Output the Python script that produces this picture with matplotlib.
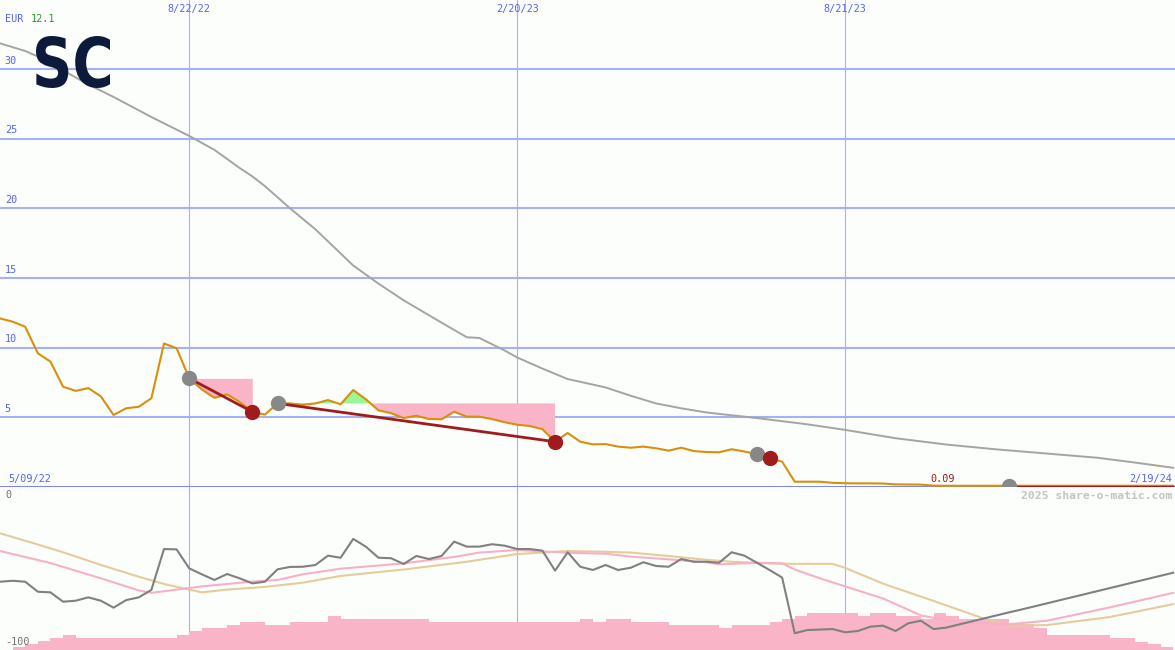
import numpy as np
import pandas as pd
import matplotlib
matplotlib.use("Agg")
import matplotlib.pyplot as plt
from matplotlib.textpath import TextPath
from matplotlib.patches import PathPatch
from matplotlib.font_manager import FontProperties
from matplotlib.transforms import Affine2D, IdentityTransform

START = pd.Timestamp("2022-05-09")
weeks = pd.date_range(START, periods=94, freq="7D")

# weekly close (EUR)
price = [12.1, 11.87, 11.5, 9.6, 9.0, 7.2, 6.9, 7.1, 6.5, 5.17,
         5.65, 5.76, 6.37, 10.3, 9.96, 7.8, 7.0, 6.4, 6.65, 6.1,
         5.4, 5.2, 6.0, 6.0, 5.9, 6.0, 6.24, 5.94, 6.96, 6.3,
         5.5, 5.3, 4.95, 5.12, 4.88, 4.86, 5.4, 5.05, 5.05, 4.88,
         4.65, 4.47, 4.38, 4.15, 3.25, 3.88, 3.25, 3.06, 3.08, 2.9,
         2.82, 2.9, 2.78, 2.61, 2.82, 2.58, 2.51, 2.49, 2.71, 2.55,
         2.35, 2.06, 1.82, 0.38, 0.38, 0.38, 0.3, 0.27, 0.26, 0.26,
         0.25, 0.19, 0.18, 0.17, 0.1, 0.09, 0.09, 0.09, 0.09, 0.09,
         0.09, 0.09, 0.09, 0.09, 0.09, 0.09, 0.09, 0.09, 0.09, 0.09,
         0.09, 0.09, 0.09, 0.09]

# long moving average (gray)
ma_weeks = [0, 2, 3, 5, 7, 9, 12, 15, 17, 19, 20, 21, 23, 25, 28, 30, 32, 35, 37, 38,
            40, 41, 43, 45, 48, 50, 52, 54, 56, 60, 64, 67, 71, 75, 79, 83, 87, 90, 93]
ma_vals = [31.85, 31.3, 30.9, 29.9, 28.9, 28.0, 26.56, 25.2, 24.2, 22.9, 22.3, 21.6, 20.0,
           18.5, 15.9, 14.6, 13.4, 11.8, 10.75, 10.7, 9.8, 9.3, 8.5, 7.75, 7.15, 6.55,
           6.0, 5.65, 5.35, 4.95, 4.5, 4.1, 3.5, 3.05, 2.7, 2.4, 2.1, 1.75, 1.38]

# trades: buy / sell week indexes
buy_weeks = [15, 22, 60, 80]
sell_weeks = [20, 44, 61, None]

# lower panel: oscillator (gray)
osc = [-57.6, -57, -57.6, -63.8, -64.2, -70, -69.4, -67.3, -69.4, -73.7,
       -69, -67.3, -62.7, -37.3, -37.5, -49.3, -53, -56.5, -52.8, -55.5,
       -58.6, -57.6, -49.9, -48.4, -48.3, -47.2, -41.4, -42.7, -31, -35.8,
       -42.7, -43, -46.6, -41.6, -43.5, -41.6, -32.7, -35.8, -35.8, -34.3,
       -35.2, -37.3, -37.3, -38.3, -50.7, -39.3, -48.3, -50.3, -47.2, -50.3,
       -48.9, -45.5, -47.8, -48.3, -43.5, -45.2, -45.2, -45.8, -39.3, -41.4,
       -45.8, -50.3, -55, -89.6, -87.6, -87.3, -87, -89, -88.2, -85.5,
       -84.9, -88.2, -83.4, -81.8, -87, -86.1, -84.2, -82.3, -80.4, -78.5,
       -76.6, -74.8, -72.9, -71, -69.1, -67.2, -65.3, -63.4, -61.5, -59.6,
       -57.7, -55.8, -53.9, -52]

pink_weeks = [0, 4, 8, 11, 12, 13, 16, 20, 22, 24, 27, 32, 36, 38, 41, 45, 48, 50, 53, 56,
              57, 60, 62, 63, 65, 67, 70, 73, 76, 80, 83, 88, 93]
pink_vals = [-38.5, -46, -55.5, -63, -64.5, -63.5, -60.5, -57.5, -56.5, -53, -49.5, -46.2,
             -42.2, -39.5, -37.9, -39.6, -40.2, -42, -43.7, -45.5, -46.8, -45.8, -46.2, -50,
             -55.5, -60.5, -68, -78.5, -83, -84, -81.8, -73.5, -64.5]

tan_weeks = [0, 3, 5, 8, 11, 13, 16, 18, 21, 24, 27, 32, 37, 41, 45, 48, 50, 53, 56, 58,
             61, 63, 66, 67, 70, 74, 78, 80, 83, 88, 93]
tan_vals = [-27.5, -34.5, -39.3, -47.2, -54.5, -59, -64.2, -62.5, -60.8, -58.2, -54, -50,
            -45.2, -40.4, -38.5, -39, -39.5, -41.6, -44, -45.2, -46.2, -46.5, -46.5, -49,
            -58.8, -69.5, -80.5, -85, -84.5, -79.5, -71.5]

bars = [-100, -98, -96.5, -94.4, -92.4, -90.7, -92.4, -92.4, -92.4, -92.4,
        -92.4, -92.4, -92.4, -92.4, -90.7, -88.2, -86.1, -86.1, -84.5, -82.4,
        -82.4, -84.5, -84.5, -82.4, -82.4, -82.4, -78.9, -80.7, -80.7, -80.7,
        -80.7, -80.7, -80.7, -80.7, -82.4, -82.4, -82.4, -82.4, -82.4, -82.4,
        -82.4, -82.4, -82.4, -82.4, -82.4, -82.4, -80.7, -82.4, -80.7, -80.7,
        -82.4, -82.4, -82.4, -84.5, -84.5, -84.5, -84.5, -86.1, -84.5, -84.5,
        -84.5, -82.4, -80.7, -78.9, -77.2, -77.2, -77.2, -77.2, -78.9, -77.2,
        -77.2, -78.9, -78.9, -80.7, -77.2, -78.9, -80.7, -80.7, -80.7, -80.7,
        -84, -84, -86.5, -90.7, -90.7, -90.7, -90.7, -90.7, -92.7, -92.7,
        -94.8, -96.3, -98, -100]

grid_dates = ["2022-08-22", "2023-02-20", "2023-08-21"]
grid_labels = ["8/22/22", "2/20/23", "8/21/23"]
y_levels = [5, 10, 15, 20, 25, 30]

W, H = 1175, 650
BG = "#fcfefc"
BLUE_TXT = "#5464f0"
GRID = "#a4b2f4"
MONO = "DejaVu Sans Mono"

fig = plt.figure(figsize=(W / 100, H / 100), dpi=100, facecolor=BG)
ax = fig.add_axes([0, 163 / H, 1, 487 / H], facecolor=BG)
ax2 = fig.add_axes([0, 0, 1, 163 / H], facecolor=BG)

xmin = START
xmax = START + pd.Timedelta(days=652)
for a in (ax, ax2):
    a.set_xlim(xmin, xmax)
    for s in a.spines.values():
        s.set_visible(False)
    a.set_xticks([])
    a.set_yticks([])
    for d in grid_dates:
        a.axvline(pd.Timestamp(d), color=GRID, lw=0.8, zorder=0)

ax.set_ylim(0, 34.96)
ax2.set_ylim(-100, 1.24)

for lv in y_levels:
    ax.axhline(lv, color=GRID, lw=1.5, zorder=0)
    ax.text(0.004, lv + 0.25, str(lv), transform=ax.get_yaxis_transform(),
            color=BLUE_TXT, fontsize=7.3, family=MONO, va="bottom", ha="left")
ax.axhline(0, color="#7a88f0", lw=2.2, zorder=1)

# moving average
ax.plot(weeks[ma_weeks], ma_vals, color="#a4a4a4", lw=1.4, zorder=2)

price_arr = np.array(price)
# trade fills and lines
for b, s in zip(buy_weeks, sell_weeks):
    lvl = price[b]
    if s is None:
        ax.plot([weeks[b], weeks[-1]], [lvl, lvl], color="#a01c1c", lw=1.0, zorder=4)
        continue
    xs = weeks[b:s + 1]
    ys = price_arr[b:s + 1]
    ax.fill_between(xs, lvl, ys, where=ys <= lvl, interpolate=True,
                    color="#fab4c8", lw=0, zorder=1.5)
    ax.fill_between(xs, lvl, ys, where=ys >= lvl, interpolate=True,
                    color="#98f898", lw=0, zorder=1.5)
    ax.plot([weeks[b], weeks[s]], [price[b], price[s]], color="#a01c1c", lw=2, zorder=4)

ax.plot(weeks, price, color="#d8900a", lw=1.5, zorder=3)

for b in buy_weeks:
    ax.plot(weeks[b], price[b], "o", color="#888888", ms=10, zorder=5)
for s in sell_weeks:
    if s is not None:
        ax.plot(weeks[s], price[s], "o", color="#a01c1c", ms=10, zorder=5)

# labels
for d, lab in zip(grid_dates, grid_labels):
    fig.text((pd.Timestamp(d) - START).days * 1.8022 / W, 1 - 9 / H, lab,
             color=BLUE_TXT, fontsize=7.3, family=MONO, ha="center", va="center")
fig.text(5 / W, 1 - 19 / H, "EUR", color=BLUE_TXT, fontsize=7.3, family=MONO, va="center")
fig.text(31 / W, 1 - 19 / H, "12.1", color="#20a020", fontsize=7.3, family=MONO, va="center")
fig.text(8 / W, 1 - 479 / H, "5/09/22", color=BLUE_TXT, fontsize=7.3, family=MONO, va="center")
fig.text(1172 / W, 1 - 479 / H, "2/19/24", color=BLUE_TXT, fontsize=7.3, family=MONO,
         va="center", ha="right")
fig.text(930 / W, 1 - 479 / H, "0.09", color="#a01c1c", fontsize=7.3, family=MONO, va="center")
fig.text(1172 / W, 1 - 496 / H, "2025 share-o-matic.com", color="#c4c4c4", fontsize=8.2,
         family=MONO, weight="bold", va="center", ha="right")
fig.text(5 / W, 1 - 495 / H, "0", color="#707070", fontsize=7.3, family=MONO, va="center")
fig.text(5 / W, 1 - 642 / H, "-100", color="#707070", fontsize=7.3, family=MONO, va="center",
         zorder=10)

# lower panel
ax2.bar(weeks, np.array(bars) + 100, bottom=-100, width=7, align="edge",
        color="#fab4c8", lw=0, zorder=1)
ax2.plot(weeks[tan_weeks], tan_vals, color="#e4cc9c", lw=1.5, zorder=2)
ax2.plot(weeks[pink_weeks], pink_vals, color="#f8b0c8", lw=1.5, zorder=2)
ax2.plot(weeks, osc, color="#808080", lw=1.5, zorder=3)

# logo
tp = TextPath((0, 0), "SC", size=1, prop=FontProperties(family="DejaVu Sans", weight="bold"))
ext = tp.get_extents()
tr = (Affine2D().translate(-ext.x0, -ext.y0)
      .scale(74 / ext.width, 52 / ext.height).translate(36, H - 88))
logo = PathPatch(tr.transform_path(tp), color="#0d1a3c", lw=0, transform=IdentityTransform())
fig.patches.append(logo)

fig.savefig("out.png", dpi=100, facecolor=BG)
